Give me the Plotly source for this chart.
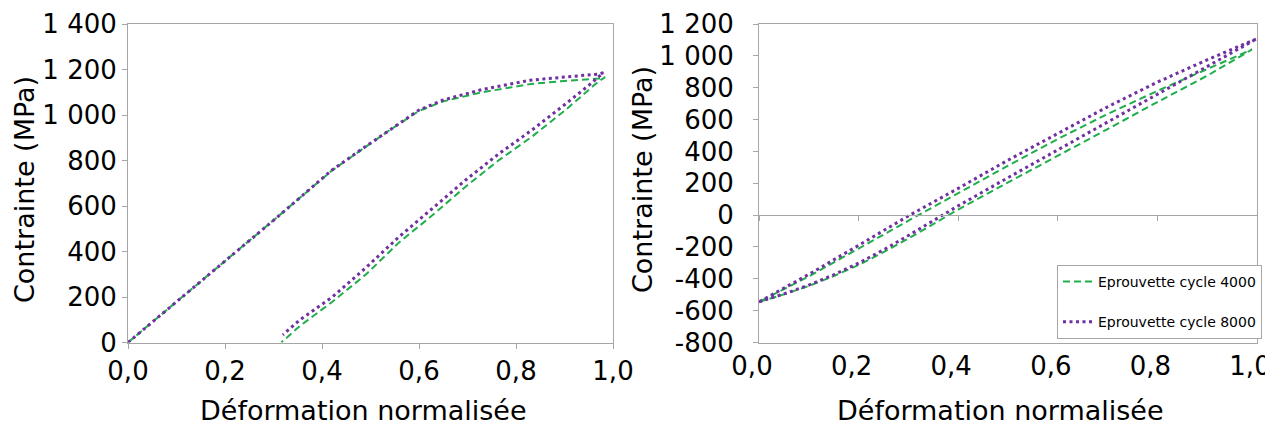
import plotly.graph_objects as go

# ---------------- data ----------------
# Left chart (loading then unloading), normalised strain vs stress (MPa)
left_x_4000 = [0, 0.1, 0.2, 0.3, 0.35, 0.42, 0.48, 0.54, 0.6, 0.65, 0.73, 0.83, 0.9, 0.97, 0.984,
               0.97, 0.902, 0.833, 0.765, 0.696, 0.628, 0.559, 0.491, 0.422, 0.354, 0.316]
left_y_4000 = [0, 178, 356, 537, 628, 755, 845, 934, 1018, 1060, 1100, 1136, 1150, 1160, 1166,
               1147, 1022, 905, 802, 685, 560, 440, 300, 180, 72, 0]

left_x_8000 = [0, 0.1, 0.2, 0.3, 0.35, 0.42, 0.48, 0.54, 0.6, 0.65, 0.73, 0.83, 0.9, 0.97, 0.98,
               0.95, 0.9, 0.833, 0.765, 0.696, 0.628, 0.559, 0.491, 0.422, 0.354, 0.319]
left_y_8000 = [0, 178, 356, 537, 628, 757, 847, 936, 1022, 1066, 1112, 1153, 1168, 1180, 1186,
               1130, 1045, 934, 830, 714, 590, 465, 330, 201, 99, 33]

# Right chart (hysteresis loops): lower branch then upper branch back to start
right_x_4000 = [0, 0.05, 0.1, 0.15, 0.2, 0.25, 0.3, 0.35, 0.4, 0.5, 0.6, 0.7, 0.8, 0.9, 0.99,
                0.9, 0.8, 0.7, 0.6, 0.5, 0.4, 0.3, 0.2, 0.1, 0]
right_y_4000 = [-545, -498, -445, -383, -313, -233, -147, -57, 35, 205, 370, 540, 710, 875, 1040,
                915, 780, 635, 478, 310, 140, -35, -210, -385, -545]

right_x_8000 = [0, 0.05, 0.1, 0.15, 0.2, 0.25, 0.3, 0.35, 0.4, 0.5, 0.6, 0.7, 0.8, 0.9, 1.0,
                0.9, 0.8, 0.7, 0.6, 0.5, 0.4, 0.3, 0.2, 0.1, 0]
right_y_8000 = [-545, -495, -440, -375, -302, -218, -128, -35, 58, 235, 410, 585, 760, 935, 1108,
                975, 835, 680, 515, 345, 168, -5, -190, -372, -545]

series_names = ["Eprouvette cycle 4000", "Eprouvette cycle 8000"]

x_tickvals = [0, 0.2, 0.4, 0.6, 0.8, 1.0]
x_ticktext = ["0,0", "0,2", "0,4", "0,6", "0,8", "1,0"]
left_y_tickvals = [0, 200, 400, 600, 800, 1000, 1200, 1400]
left_y_ticktext = ["0", "200", "400", "600", "800", "1 000", "1 200", "1 400"]
right_y_tickvals = [-800, -600, -400, -200, 0, 200, 400, 600, 800, 1000, 1200]
right_y_ticktext = ["-800", "-600", "-400", "-200", "0", "200", "400", "600", "800", "1 000", "1 200"]

x_title = "Déformation normalisée"
y_title = "Contrainte (MPa)"

# ---------------- styling ----------------
OFF = 8                      # page body margin
W, H = 1273 - OFF, 425 - OFF
FONT = "DejaVu Sans"
GREEN = "#1FAE4B"
PURPLE = "#7030A0"
AXIS = "#A6A6A6"


def fx(p):
    return (p - OFF) / W


def fy(p):
    return 1 - (p - OFF) / H


xd1 = [fx(128), fx(613)]
xd2 = [fx(759), fx(1257)]
yd = [fy(342.5), fy(24)]

green_line = dict(color=GREEN, width=2, dash="7px,4px")
purple_line = dict(color=PURPLE, width=3, dash="3px,3.5px")

fig = go.Figure()
fig.add_trace(go.Scatter(x=left_x_4000, y=left_y_4000, mode="lines", line=green_line,
                         name=series_names[0], showlegend=False, xaxis="x", yaxis="y"))
fig.add_trace(go.Scatter(x=left_x_8000, y=left_y_8000, mode="lines", line=purple_line,
                         name=series_names[1], showlegend=False, xaxis="x", yaxis="y"))
fig.add_trace(go.Scatter(x=right_x_4000, y=right_y_4000, mode="lines", line=green_line,
                         name=series_names[0], legendgroup="a", xaxis="x2", yaxis="y2"))
fig.add_trace(go.Scatter(x=right_x_8000, y=right_y_8000, mode="lines", line=purple_line,
                         name=series_names[1], legendgroup="b", xaxis="x2", yaxis="y2"))
# invisible trace so the zero-line tick axis is drawn
fig.add_trace(go.Scatter(x=[None], y=[None], mode="lines", showlegend=False,
                         hoverinfo="skip", xaxis="x3", yaxis="y2"))

tickfont = dict(family=FONT, size=26, color="black")
common_axis = dict(showgrid=False, zeroline=False, showline=True, linecolor=AXIS, linewidth=1,
                   mirror=True, tickfont=tickfont, tickcolor=AXIS, ticklen=5, tickwidth=1,
                   automargin=False, ticklabeloverflow="allow")

r2 = [-800, 1200]
zero_pos = yd[0] + (0 - r2[0]) / (r2[1] - r2[0]) * (yd[1] - yd[0])

title_font = dict(family=FONT, size=27, color="black")

fig.update_layout(
    width=W, height=H,
    margin=dict(l=0, r=0, t=0, b=0, autoexpand=False),
    paper_bgcolor="white", plot_bgcolor="white",
    font=dict(family=FONT, color="black"),
    xaxis=dict(domain=xd1, anchor="y", range=[0, 1], tickvals=x_tickvals, ticktext=x_ticktext,
               ticks="outside", **common_axis),
    yaxis=dict(domain=yd, anchor="x", range=[0, 1400], tickvals=left_y_tickvals,
               ticktext=left_y_ticktext, ticks="outside", **common_axis),
    xaxis2=dict(domain=xd2, anchor="y2", range=[0, 1], tickvals=x_tickvals,
                ticktext=x_ticktext, ticks="", ticklabelshift=-7, **common_axis),
    yaxis2=dict(domain=yd, anchor="x2", range=r2, tickvals=right_y_tickvals,
                ticktext=right_y_ticktext, ticks="outside", ticklabelstandoff=14, **common_axis),
    xaxis3=dict(overlaying="x2", anchor="free", position=zero_pos, range=[0, 1],
                tickvals=x_tickvals, showticklabels=False, ticks="outside", ticklen=5,
                tickcolor=AXIS, showline=True, linecolor=AXIS, linewidth=1,
                showgrid=False, zeroline=False, automargin=False),
    legend=dict(x=fx(1057), y=fy(265), xanchor="left", yanchor="top",
                bgcolor="white", bordercolor=AXIS, borderwidth=1,
                font=dict(family=FONT, size=14, color="black"),
                tracegroupgap=19, itemwidth=30),
    showlegend=True,
    annotations=[
        dict(text=x_title, x=fx(363), y=fy(410), xref="paper", yref="paper",
             xanchor="center", yanchor="middle", showarrow=False, font=title_font),
        dict(text=x_title, x=fx(1000), y=fy(410), xref="paper", yref="paper",
             xanchor="center", yanchor="middle", showarrow=False, font=title_font),
        dict(text=y_title, x=fx(25), y=fy(190), xref="paper", yref="paper",
             xanchor="center", yanchor="middle", textangle=-90, showarrow=False, font=title_font),
        dict(text=y_title, x=fx(642), y=fy(180), xref="paper", yref="paper",
             xanchor="center", yanchor="middle", textangle=-90, showarrow=False, font=title_font),
    ],
)

fig.write_html("out.html")
